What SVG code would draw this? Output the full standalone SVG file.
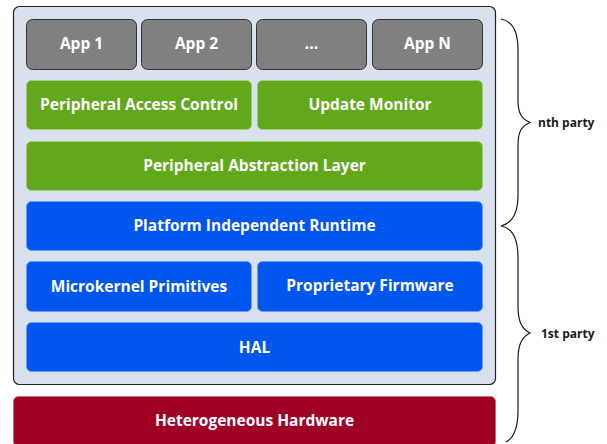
<svg xmlns="http://www.w3.org/2000/svg" width="607" height="444" viewBox="0 0 607 444">
  <style>
    .lbl { font-family: "Open Sans", Lato, "Liberation Sans", sans-serif; font-weight: bold; font-size: 15.5px; fill: #ffffff; text-anchor: middle; }
    .side { font-family: "Open Sans", Lato, "Liberation Sans", sans-serif; font-weight: bold; font-size: 12px; fill: #1a1a1a; }
    .app { fill: #808080; stroke: #333333; stroke-width: 1; }
    .green { fill: #61a81b; stroke: #9ccc73; stroke-width: 1; }
    .blue { fill: #0056ee; stroke: #6f9cf5; stroke-width: 1; }
    .red { fill: #a10026; stroke: #c9667d; stroke-width: 1; }
    .brace { fill: none; stroke: #1a1a1a; stroke-width: 1.2; }
  </style>

  <!-- stack container -->
  <g id="container">
    <rect x="13.5" y="6.5" width="482" height="378" rx="6" fill="#d9e1ee" stroke="#222222" stroke-width="1.2"/>
  </g>

  <!-- applications -->
  <g id="app1"><rect class="app" x="26.5" y="19.5" width="110" height="50" rx="6"/><text class="lbl" x="81.5" y="49">App 1</text></g>
  <g id="app2"><rect class="app" x="141.5" y="19.5" width="110" height="50" rx="6"/><text class="lbl" x="196.5" y="49">App 2</text></g>
  <g id="app-more"><rect class="app" x="256.5" y="19.5" width="110" height="50" rx="6"/><text class="lbl" x="311.5" y="49">...</text></g>
  <g id="appN"><rect class="app" x="372.5" y="19.5" width="110" height="50" rx="6"/><text class="lbl" x="427.5" y="49">App N</text></g>

  <!-- nth party layers -->
  <g id="peripheral-access-control"><rect class="green" x="26.5" y="80.5" width="225" height="49" rx="5"/><text class="lbl" x="139" y="109.5">Peripheral Access Control</text></g>
  <g id="update-monitor"><rect class="green" x="257.5" y="80.5" width="225" height="49" rx="5"/><text class="lbl" x="370" y="109.5">Update Monitor</text></g>
  <g id="peripheral-abstraction-layer"><rect class="green" x="26.5" y="141.5" width="456" height="49" rx="5"/><text class="lbl" x="254.5" y="170.5">Peripheral Abstraction Layer</text></g>

  <!-- 1st party layers -->
  <g id="platform-independent-runtime"><rect class="blue" x="26.5" y="201.5" width="456" height="49" rx="5"/><text class="lbl" x="254.5" y="230.5">Platform Independent Runtime</text></g>
  <g id="microkernel-primitives"><rect class="blue" x="26.5" y="261.5" width="225" height="50" rx="5"/><text class="lbl" x="139" y="291.5">Microkernel Primitives</text></g>
  <g id="proprietary-firmware"><rect class="blue" x="257.5" y="261.5" width="225" height="50" rx="5"/><text class="lbl" x="370" y="290.5">Proprietary Firmware</text></g>
  <g id="hal"><rect class="blue" x="26.5" y="322.5" width="456" height="49" rx="5"/><text class="lbl" x="254.5" y="352.5">HAL</text></g>

  <!-- hardware -->
  <g id="heterogeneous-hardware"><rect class="red" x="13.5" y="396.5" width="482" height="50" rx="5"/><text class="lbl" x="254.5" y="425.5">Heterogeneous Hardware</text></g>

  <!-- braces and party labels -->
  <g id="braces">
    <path class="brace" d="M501,19 C513,21 518,32 518,50 L518,100 C518,114 522,119 530,122.5 C522,126 518,131 518,145 L518,195 C518,213 513,223 501,226"/>
    <path class="brace" d="M501,226 C513,228 518,240 518,258 L518,306 C518,322 522,329 530,333 C522,337 518,344 518,360 L518,410 C518,428 514,438 506,442"/>
  </g>
  <g id="party-labels">
    <text class="side" x="538" y="127">nth party</text>
    <text class="side" x="541" y="338">1st party</text>
  </g>
</svg>
